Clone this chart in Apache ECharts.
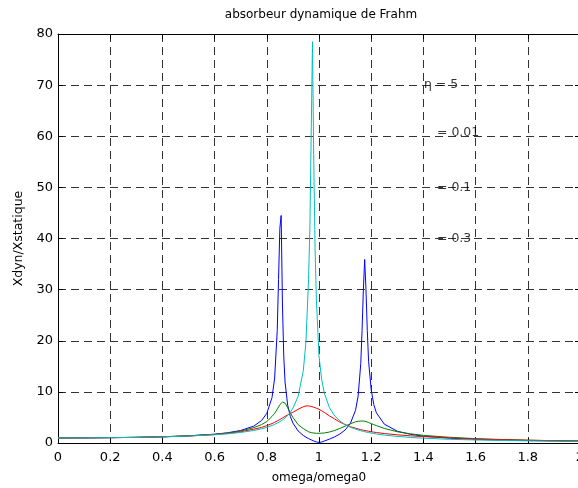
<!DOCTYPE html>
<html><head><meta charset="utf-8">
<script src="https://cdn.jsdelivr.net/npm/echarts@6/dist/echarts.min.js"></script>
<style>html,body{margin:0;padding:0;background:#fff}#c{width:578px;height:488px}</style>
</head><body><div id="c"></div>
<script>
// frequency ratio omega/omega0
const xs = [0, 0.1, 0.2, 0.3, 0.4, 0.5, 0.6, 0.65, 0.7, 0.75,
  0.78, 0.8, 0.82, 0.83, 0.84, 0.845, 0.85, 0.855, 0.86, 0.865,
  0.87, 0.88, 0.89, 0.9, 0.92, 0.94, 0.95, 0.96, 0.965, 0.97,
  0.975, 0.98, 0.985, 0.99, 1.0, 1.01, 1.02, 1.04, 1.06, 1.08,
  1.1, 1.12, 1.14, 1.15, 1.16, 1.165, 1.17, 1.175, 1.18, 1.185,
  1.19, 1.2, 1.21, 1.22, 1.25, 1.3, 1.35, 1.4, 1.5, 1.6,
  1.7, 1.8, 1.9, 2.0];
// eta = 0.01 (blue)
const yEta001 = [1.0, 1.01, 1.05, 1.11, 1.22, 1.40, 1.72, 2.0, 2.45, 3.3,
  4.4, 5.8, 8.9, 12.7, 22, 32, 42, 44.5, 27, 17,
  11.9, 7.4, 5.2, 3.9, 2.35, 1.47, 1.14, 0.86, 0.74, 0.62,
  0.51, 0.40, 0.30, 0.2, 0.1, 0.19, 0.38, 0.76, 1.2, 1.76,
  2.55, 3.8, 6.4, 9.2, 15.5, 22, 30, 35.9, 30, 22,
  16, 10.4, 7.5, 5.9, 3.7, 2.3, 1.7, 1.34, 0.94, 0.72,
  0.58, 0.48, 0.41, 0.35];
// eta = 0.1 (green)
const yEta01 = [1.0, 1.01, 1.045, 1.11, 1.22, 1.40, 1.7, 1.95, 2.35, 3.0,
  3.6, 4.2, 5.2, 5.8, 6.6, 7.05, 7.5, 7.85, 8.0, 8.05,
  7.8, 6.9, 5.9, 5.0, 3.6, 2.8, 2.5, 2.2, 2.1, 2.03,
  1.98, 1.95, 1.92, 1.9, 1.9, 1.92, 1.95, 2.15, 2.45, 2.85,
  3.3, 3.75, 4.15, 4.25, 4.3, 4.32, 4.3, 4.27, 4.2, 4.1,
  4.0, 3.8, 3.6, 3.4, 2.85, 2.2, 1.8, 1.5, 1.12, 0.85,
  0.68, 0.55, 0.46, 0.39];
// eta = 0.3 (red)
const yEta03 = [1.0, 1.01, 1.04, 1.10, 1.2, 1.37, 1.65, 1.87, 2.2, 2.7,
  3.05, 3.4, 3.8, 4.05, 4.3, 4.45, 4.6, 4.75, 4.9, 5.05,
  5.2, 5.5, 5.75, 6.0, 6.6, 7.1, 7.25, 7.25, 7.2, 7.15,
  7.1, 7.0, 6.9, 6.8, 6.6, 6.3, 6.0, 5.3, 4.7, 4.1,
  3.6, 3.2, 2.9, 2.75, 2.6, 2.55, 2.5, 2.45, 2.4, 2.35,
  2.3, 2.2, 2.12, 2.05, 1.85, 1.6, 1.4, 1.25, 1.0, 0.8,
  0.65, 0.55, 0.45, 0.38];
// eta = 5 (cyan)
const yEta5 = [1.0, 1.01, 1.04, 1.1, 1.2, 1.36, 1.61, 1.8, 2.06, 2.45,
  2.78, 3.06, 3.42, 3.64, 3.88, 4.02, 4.17, 4.33, 4.5, 4.7,
  4.9, 5.4, 6.0, 6.8, 9.1, 14.2, 19.8, 32, 42, 60,
  78.5, 55, 38, 28, 17, 12.5, 9.8, 6.9, 5.3, 4.3,
  3.6, 3.1, 2.7, 2.55, 2.4, 2.33, 2.27, 2.2, 2.15, 2.1,
  2.05, 1.94, 1.85, 1.77, 1.55, 1.29, 1.09, 0.94, 0.73, 0.59,
  0.49, 0.42, 0.36, 0.31];

const seriesNames = ['η = 0.01', 'η = 0.1', 'η = 0.3', 'η = 5'];
const seriesColors = ['#0000ff', '#008000', '#ff0000', '#00bfbf'];
const seriesValues = [yEta001, yEta01, yEta03, yEta5];

const annotations = [[1.4, 70, 'η = 5'], [1.45, 60.6, '= 0.01'], [1.45, 50, '= 0.1'], [1.45, 40, '= 0.3']];

const FONT = '"DejaVu Sans", sans-serif';
const chart = echarts.init(document.getElementById('c'), null, {renderer: 'canvas'});

const lineSeries = seriesValues.map((ys, i) => ({
  type: 'line', name: seriesNames[i], showSymbol: false, symbol: 'none',
  data: xs.map((x, j) => [x, ys[j]]),
  lineStyle: {color: seriesColors[i], width: 1}, itemStyle: {color: seriesColors[i]},
  animation: false, z: 3 + i
}));

const gridDash = {color: '#333', width: 1, type: [8, 5]};
chart.setOption({
  animation: false,
  backgroundColor: '#fff',
  title: {text: 'absorbeur dynamique de Frahm', left: 316, top: 4, textAlign: 'center',
    textStyle: {fontFamily: FONT, fontSize: 12, fontWeight: 'normal', color: '#000'}},
  grid: {left: 58, top: 34, width: 522, height: 409, outerBoundsMode: 'none', containLabel: false},
  xAxis: [{
    type: 'value', min: 0, max: 2, interval: 0.2, position: 'bottom',
    name: 'omega/omega0', nameLocation: 'middle', nameGap: 29,
    nameTextStyle: {fontFamily: FONT, fontSize: 12, color: '#000'},
    axisLine: {show: true, onZero: false, lineStyle: {color: '#000', width: 1}},
    axisTick: {show: true, inside: true, length: 5, lineStyle: {color: '#000'}},
    axisLabel: {fontFamily: FONT, fontSize: 13, color: '#000', margin: 8},
    splitLine: {show: true, lineStyle: gridDash}
  }, {
    type: 'value', min: 0, max: 2, interval: 0.2, position: 'top',
    axisLine: {show: true, onZero: false, lineStyle: {color: '#000', width: 1}},
    axisTick: {show: true, inside: true, length: 5, lineStyle: {color: '#000'}},
    axisLabel: {show: false}, splitLine: {show: false}
  }],
  yAxis: [{
    type: 'value', min: 0, max: 80, interval: 10, position: 'left',
    name: 'Xdyn/Xstatique', nameLocation: 'middle', nameGap: 33, nameRotate: 90,
    nameTextStyle: {fontFamily: FONT, fontSize: 12.5, color: '#000'},
    axisLine: {show: true, onZero: false, lineStyle: {color: '#000', width: 1}},
    axisTick: {show: true, inside: true, length: 5, lineStyle: {color: '#000'}},
    axisLabel: {fontFamily: FONT, fontSize: 13, color: '#000', margin: 5},
    splitLine: {show: true, lineStyle: gridDash}
  }, {
    type: 'value', min: 0, max: 80, interval: 10, position: 'right',
    axisLine: {show: true, onZero: false, lineStyle: {color: '#000', width: 1}},
    axisTick: {show: true, inside: true, length: 5, lineStyle: {color: '#000'}},
    axisLabel: {show: false}, splitLine: {show: false}
  }],
  series: lineSeries.concat([{
    type: 'scatter', symbolSize: 1, itemStyle: {color: 'rgba(0,0,0,0)'}, z: 10,
    data: annotations.map(a => ({value: [a[0], a[1]], name: a[2]})),
    label: {show: true, position: 'right', distance: 0, formatter: p => p.name,
      fontFamily: FONT, fontSize: 12.5, color: '#000'},
    labelLayout: {hideOverlap: false},
    silent: true
  }])
});
</script>
</body></html>
